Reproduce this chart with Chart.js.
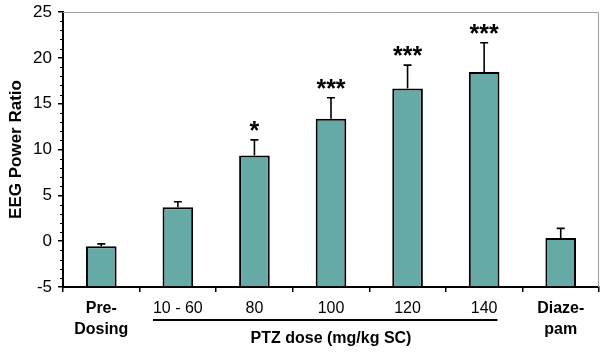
<!DOCTYPE html>
<html>
<head>
<meta charset="utf-8">
<script src="https://cdn.jsdelivr.net/npm/chart.js"></script>
<style>
  html, body { margin: 0; padding: 0; background: #fff; }
  #wrap { width: 600px; height: 352px; }
</style>
</head>
<body>
<div id="wrap"><canvas id="eegChart" width="600" height="352"></canvas></div>
<script>
// data
const categories = [['Pre-', 'Dosing'], '10 - 60', '80', '100', '120', '140', ['Diaze-', 'pam']];
const ratioValues = [-0.55, 3.7, 9.35, 13.35, 16.65, 18.45, 0.35];
const ratioErrors = [0.25, 0.6, 1.7, 2.3, 2.55, 3.2, 1.05];
const significance = ['', '', '*', '***', '***', '***', ''];
const yTicks = [-5, 0, 5, 10, 15, 20, 25];
const doseGroupLabel = 'PTZ dose (mg/kg SC)';
const boldLabels = [0, 6];

const fontFamily = '"Liberation Sans", Arial, sans-serif';

// error bars (upper half only) and the stars above them
const errorBarPlugin = {
    id: 'errorBars',
    afterDatasetsDraw(chart) {
        const ctx = chart.ctx;
        const meta = chart.getDatasetMeta(0);
        const y = chart.scales.y;
        ctx.save();
        ctx.strokeStyle = '#000';
        ctx.fillStyle = '#000';
        ctx.lineWidth = 1.6;
        meta.data.forEach((bar, i) => {
            const top = y.getPixelForValue(ratioValues[i]);
            const end = y.getPixelForValue(ratioValues[i] + ratioErrors[i]);
            ctx.beginPath();
            ctx.moveTo(bar.x, top);
            ctx.lineTo(bar.x, end);
            ctx.moveTo(bar.x - 4, end);
            ctx.lineTo(bar.x + 4, end);
            ctx.stroke();

            if (significance[i]) {
                ctx.font = 'bold 25px ' + fontFamily;
                ctx.textAlign = 'center';
                ctx.textBaseline = 'alphabetic';
                ctx.fillText(significance[i], bar.x, end - 1);
            }
        });
        ctx.restore();
    }
};

// minor ticks, grey frame, bracket under the PTZ groups
const framePlugin = {
    id: 'frame',
    afterDraw(chart) {
        const ctx = chart.ctx;
        const area = chart.chartArea;
        const x = chart.scales.x;
        const y = chart.scales.y;
        ctx.save();

        ctx.strokeStyle = '#a0a0a0';
        ctx.lineWidth = 1;
        ctx.beginPath();
        ctx.moveTo(area.left, area.top + 0.5);
        ctx.lineTo(area.right - 0.5, area.top + 0.5);
        ctx.lineTo(area.right - 0.5, area.bottom);
        ctx.stroke();

        ctx.strokeStyle = '#000';
        ctx.lineWidth = 1.2;
        ctx.beginPath();
        for (let v = y.min; v <= y.max; v++) {
            if (v % 5 === 0) continue;
            const py = Math.round(y.getPixelForValue(v)) + 0.5;
            ctx.moveTo(area.left - 3, py);
            ctx.lineTo(area.left, py);
        }
        ctx.stroke();

        ctx.font = '16px ' + fontFamily;
        const firstW = ctx.measureText(categories[1]).width;
        const lastW = ctx.measureText(categories[5]).width;
        const x1 = x.getPixelForValue(1) - firstW / 2;
        const x2 = x.getPixelForValue(5) + lastW / 2;
        const lineY = area.bottom + 33;
        ctx.lineWidth = 2;
        ctx.beginPath();
        ctx.moveTo(x1, lineY);
        ctx.lineTo(x2, lineY);
        ctx.stroke();

        ctx.font = 'bold 16px ' + fontFamily;
        ctx.textAlign = 'center';
        ctx.textBaseline = 'alphabetic';
        ctx.fillText(doseGroupLabel, (x.getPixelForValue(1) + x.getPixelForValue(5)) / 2, area.bottom + 56);

        ctx.restore();
    }
};

const data = {
    labels: categories,
    datasets: [{
        label: 'EEG Power Ratio',
        data: ratioValues,
        base: -5,
        backgroundColor: 'rgb(102, 170, 168)',
        borderColor: '#000',
        borderWidth: 2,
        borderSkipped: 'start',
        barPercentage: 0.4,
        categoryPercentage: 1.0
    }]
};

const config = {
    type: 'bar',
    data: data,
    options: {
        responsive: false,
        animation: false,
        devicePixelRatio: 1,
        layout: { padding: { top: 12, right: 1, left: 0, bottom: 0 } },
        plugins: {
            legend: { display: false },
            tooltip: { enabled: false }
        },
        scales: {
            x: {
                afterFit: (s) => { s.height = 65; s.paddingLeft = 0; s.paddingRight = 0; },
                border: { color: '#000', width: 2 },
                grid: {
                    offset: true,
                    drawOnChartArea: false,
                    drawTicks: true,
                    tickLength: 5,
                    color: '#000',
                    lineWidth: 1.5
                },
                ticks: {
                    color: '#000',
                    padding: 6,
                    maxRotation: 0,
                    autoSkip: false,
                    font: (c) => ({
                        family: fontFamily,
                        size: 16,
                        weight: boldLabels.includes(c.index) ? 'bold' : 'normal',
                        lineHeight: 1.3
                    })
                }
            },
            y: {
                min: yTicks[0],
                max: yTicks[yTicks.length - 1],
                afterFit: (s) => { s.width = 63; s.paddingTop = 0; s.paddingBottom = 0; },
                afterBuildTicks: (s) => { s.ticks = yTicks.map(v => ({ value: v })); },
                border: { color: '#000', width: 2 },
                grid: {
                    drawOnChartArea: false,
                    drawTicks: true,
                    tickLength: 5,
                    color: '#000',
                    lineWidth: 1.5
                },
                ticks: {
                    color: '#000',
                    padding: 6,
                    font: { family: fontFamily, size: 17 }
                },
                title: {
                    display: true,
                    text: 'EEG Power Ratio',
                    color: '#000',
                    padding: { top: 6, bottom: 0 },
                    font: { family: fontFamily, size: 17, weight: 'bold' }
                }
            }
        }
    },
    plugins: [errorBarPlugin, framePlugin]
};

const eegChart = new Chart(document.getElementById('eegChart'), config);
</script>
</body>
</html>
